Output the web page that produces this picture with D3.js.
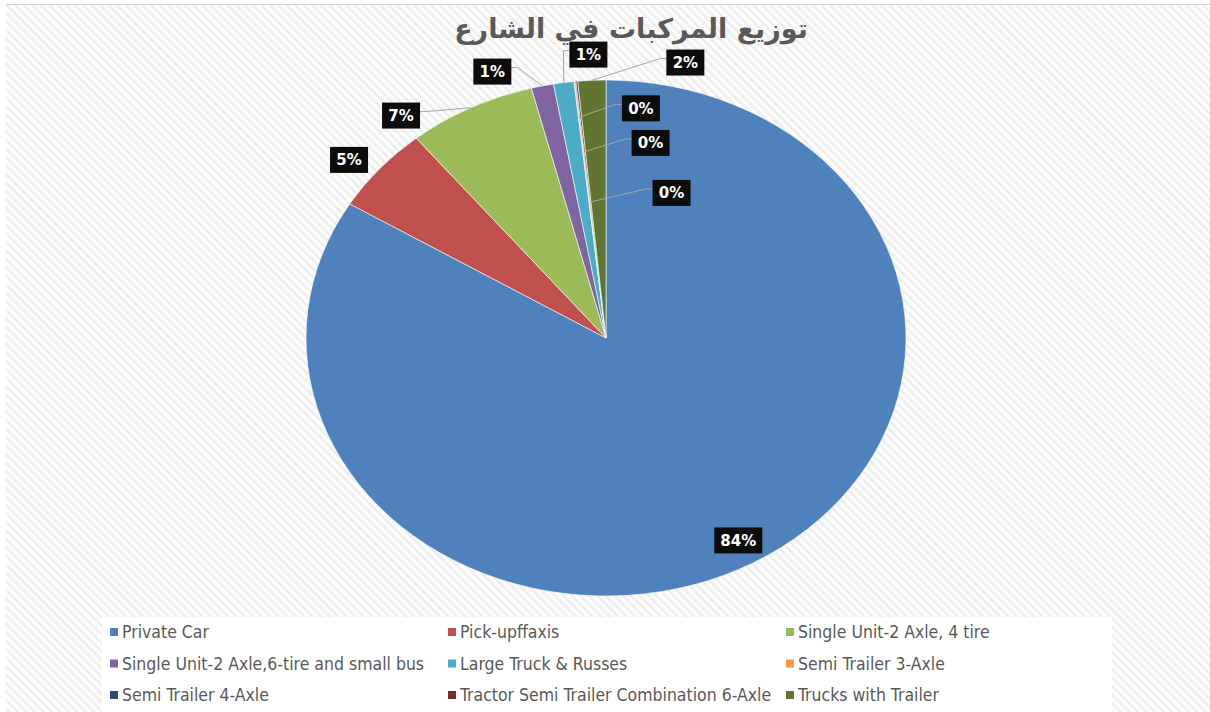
<!DOCTYPE html>
<html>
<head>
<meta charset="utf-8">
<script src="https://cdn.jsdelivr.net/npm/d3@7"></script>
<style>
    body { margin: 0; background: #fff; }
    svg { display: block; }
    .title { font-family: 'DejaVu Sans', sans-serif; font-weight: bold; font-size: 27px; fill: #595959; }
    .lbl { font-family: 'DejaVu Sans', Verdana, sans-serif; font-weight: bold; font-size: 15px; fill: #fff; }
    .leg { font-family: 'Liberation Sans Narrow', 'DejaVu Sans Condensed', sans-serif; font-size: 17.5px; fill: #595959; }
</style>
</head>
<body>
<div id="chart"></div>
<script>
// vehicle categories, share of traffic (%) and slice colours
const categories = [
    'Private Car',
    'Pick-upffaxis',
    'Single Unit-2 Axle, 4 tire',
    'Single Unit-2 Axle,6-tire and small  bus',
    'Large Truck & Russes',
    'Semi Trailer 3-Axle',
    'Semi Trailer 4-Axle',
    'Tractor Semi Trailer Combination 6-Axle',
    'Trucks with Trailer'
];
const shares = [83.7, 5.4, 6.9, 1.2, 1.1, 0.05, 0.05, 0.1, 1.5];
const colors = ['#4f81bd', '#c0504d', '#9bbb59', '#8064a2', '#4bacc6', '#f79646', '#2c4d75', '#772c2a', '#5f7530'];
const title = 'توزيع المركبات في الشارع';

const width = 1210;
const height = 712;

const svg = d3.select('#chart').append('svg').attr('width', width).attr('height', height);

// hatched chart background
const defs = svg.append('defs');
const pat = defs.append('pattern')
    .attr('id', 'hatch')
    .attr('width', 6).attr('height', 6)
    .attr('patternUnits', 'userSpaceOnUse')
    .attr('patternTransform', 'rotate(-45)');
pat.append('rect').attr('width', 6).attr('height', 6).attr('fill', '#fcfcfc');
pat.append('rect').attr('width', 2.4).attr('height', 6).attr('fill', '#ededed');

svg.append('rect').attr('x', 6).attr('y', 4).attr('width', width - 6).attr('height', height - 4).attr('fill', 'url(#hatch)');
svg.append('line').attr('x1', 6).attr('x2', width).attr('y1', 4.5).attr('y2', 4.5).attr('stroke', '#d0d0d0');

svg.append('text').attr('class', 'title')
    .attr('x', 631).attr('y', 38)
    .attr('text-anchor', 'middle')
    .text(title);

// pie (picture is stretched, so use an ellipse)
const cx = 606, cy = 338, rx = 300, ry = 258;
const data = categories.map((c, i) => ({ name: c, v: shares[i], color: colors[i] }));
const pie = d3.pie().sort(null).value(d => d.v);
const arcs = pie(data);
const arc = d3.arc().innerRadius(0).outerRadius(ry);

svg.append('g')
    .attr('transform', `translate(${cx},${cy}) scale(${rx / ry},1)`)
    .selectAll('path')
    .data(arcs)
    .enter()
    .append('path')
    .attr('d', arc)
    .attr('fill', d => d.data.color)
    .attr('stroke', '#fff')
    .attr('stroke-width', 0.6)
    .attr('vector-effect', 'non-scaling-stroke');

const pt = (a, rn) => [cx + rx * rn * Math.sin(a), cy - ry * rn * Math.cos(a)];
const pctText = v => Math.round(v) + '%';

// label layout
const labels = arcs.map(d => {
    const mid = (d.startAngle + d.endAngle) / 2;
    const txt = pctText(d.data.v);
    return { d, mid, a: mid, txt, w: txt.length > 2 ? 48 : 38, h: 26 };
});

const inner = labels.filter(l => l.d.data.v >= 50);
const zero = labels.filter(l => l.txt === '0%');
const outer = labels.filter(l => !inner.includes(l) && !zero.includes(l));

inner.forEach(l => {
    [l.x, l.y] = pt(l.a, 0.9);
    l.anchor = null;
});

// push outer labels apart until their boxes stop overlapping
const outerPos = l => pt(l.a, 1.1);
for (let it = 0; it < 600; it++) {
    let moved = false;
    outer.sort((p, q) => p.a - q.a);
    for (let i = 0; i < outer.length - 1; i++) {
        const p = outer[i], q = outer[i + 1];
        const [px, py] = outerPos(p), [qx, qy] = outerPos(q);
        const ox = (p.w + q.w) / 2 + 58 - Math.abs(px - qx);
        const oy = (p.h + q.h) / 2 + 18 - Math.abs(py - qy);
        if (ox > 0 && oy > 0) {
            p.a -= 0.002;
            q.a += 0.002;
            moved = true;
        }
    }
    if (!moved) break;
}
outer.forEach(l => {
    [l.x, l.y] = outerPos(l);
    l.anchor = pt(l.mid, 1.0);
});

// the near-zero slices get a stacked column of labels reaching into the slice
zero.forEach((l, k) => {
    const an = pt(l.mid, 0.86 - 0.105 * k - 0.03 * k * k);
    l.anchor = an;
    l.x = an[0] + 62 + 4.75 * k * k;
    l.y = an[1] - 9;
});

const all = inner.concat(outer, zero);

// leader lines
svg.append('g')
    .selectAll('path')
    .data(all.filter(l => l.anchor))
    .enter()
    .append('path')
    .attr('fill', 'none')
    .attr('stroke', '#a6a6a6')
    .attr('stroke-width', 1)
    .attr('d', l => {
        const [ax, ay] = l.anchor;
        const left = l.x - l.w / 2, right = l.x + l.w / 2;
        const bx = ax < left ? left : ax > right ? right : l.x;
        const by = Math.min(Math.max(ay, l.y - l.h / 2), l.y + l.h / 2);
        if (Math.hypot(bx - ax, by - ay) < 12) return null;
        const ex = ax < left ? bx - 6 : ax > right ? bx + 6 : bx;
        return `M${ax},${ay}L${ex},${l.y - 4}L${bx},${l.y - 4}`;
    });

const lg = svg.append('g')
    .selectAll('g')
    .data(all)
    .enter()
    .append('g')
    .attr('transform', l => `translate(${l.x},${l.y})`);
lg.append('rect')
    .attr('x', l => -l.w / 2).attr('y', l => -l.h / 2)
    .attr('width', l => l.w).attr('height', l => l.h)
    .attr('fill', '#0c0c0c');
lg.append('text')
    .attr('class', 'lbl')
    .attr('text-anchor', 'middle')
    .attr('dy', '0.36em')
    .text(l => l.txt);

// legend
svg.append('rect').attr('x', 102).attr('y', 617).attr('width', 1010).attr('height', 95).attr('fill', '#fff');

const colX = d3.scaleLinear().domain([0, 2]).range([110, 786]);
const rowY = d3.scaleLinear().domain([0, 2]).range([632, 695]);

const items = svg.append('g')
    .selectAll('g')
    .data(data)
    .enter()
    .append('g')
    .attr('transform', (d, i) => `translate(${colX(i % 3)},${rowY(Math.floor(i / 3))})`);
items.append('rect').attr('x', 0).attr('y', -4).attr('width', 8).attr('height', 8).attr('fill', d => d.color);
items.append('text').attr('class', 'leg').attr('x', 12).attr('dy', '0.35em').text(d => d.name);
</script>
</body>
</html>
